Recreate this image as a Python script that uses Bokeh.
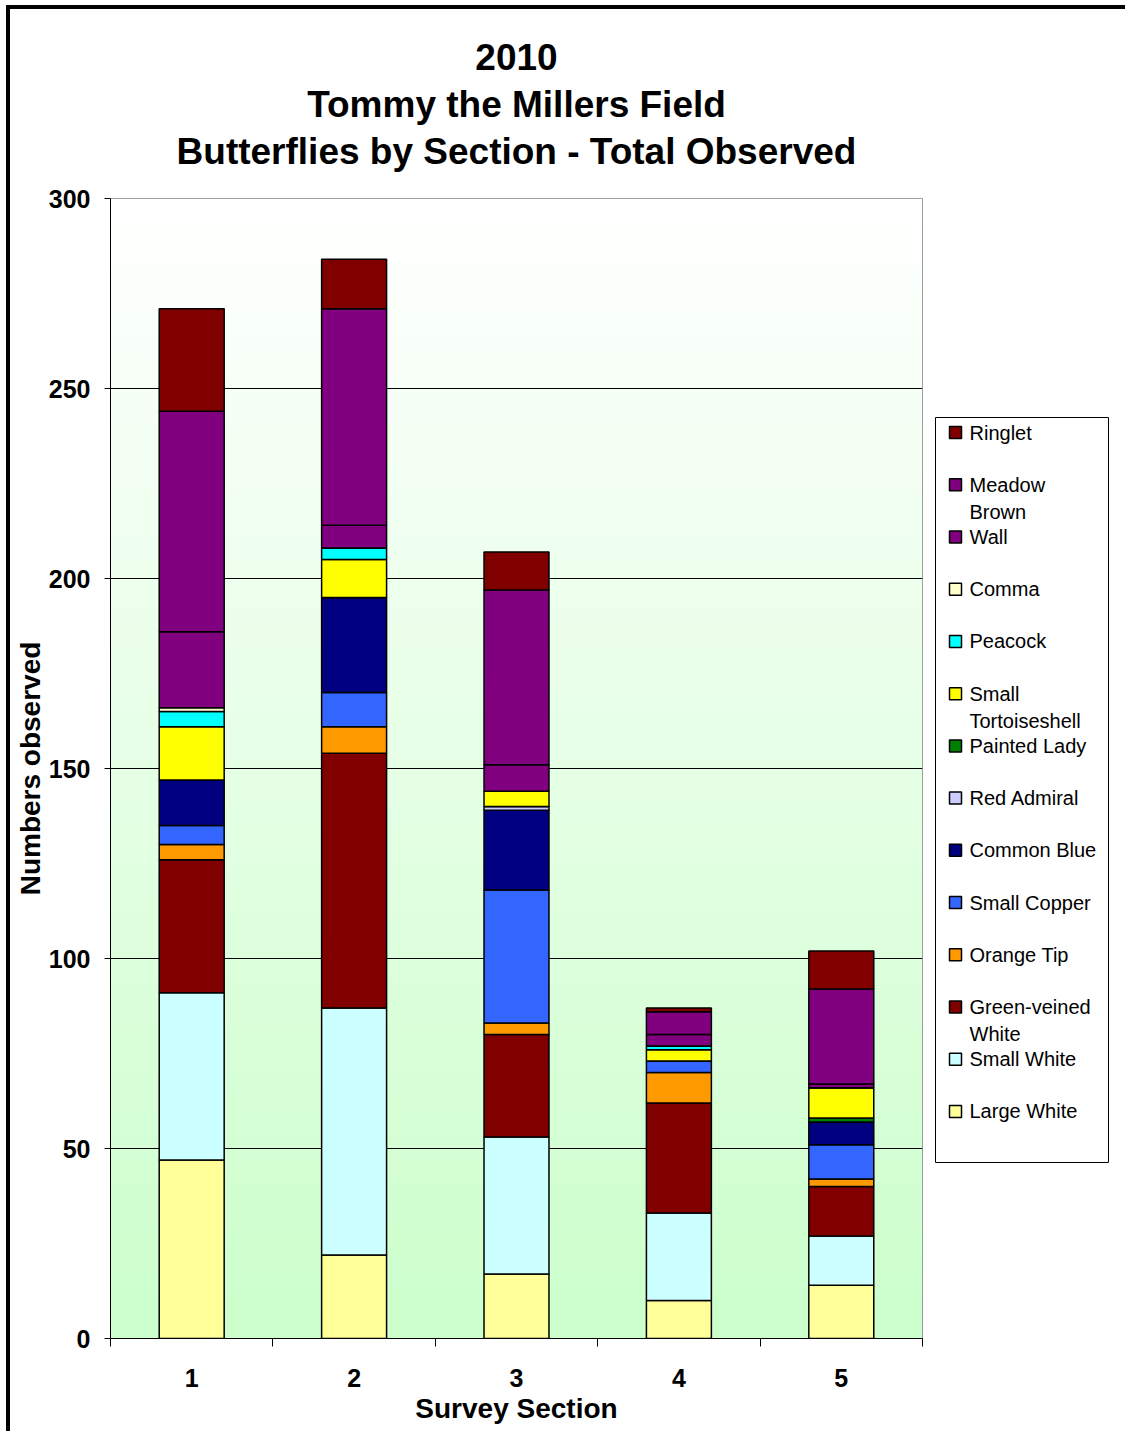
import numpy as np
from bokeh.plotting import figure
from bokeh.models import ColumnDataSource, Range1d, FixedTicker, Row
from bokeh.embed import file_html
from bokeh.resources import INLINE
from bokeh.core.properties import value

# Survey sections along the transect
sections = [1, 2, 3, 4, 5]
section_labels = {1: "1", 2: "2", 3: "3", 4: "4", 5: "5"}

# Butterfly counts per section (stacked from the bottom up)
large_white = [47, 22, 17, 10, 14]
small_white = [44, 65, 36, 23, 13]
green_veined_white = [35, 67, 27, 29, 13]
orange_tip = [4, 7, 3, 8, 2]
small_copper = [5, 9, 35, 3, 9]
common_blue = [12, 25, 21, 0, 6]
red_admiral = [0, 0, 1, 0, 0]
painted_lady = [0, 0, 0, 0, 1]
small_tortoiseshell = [14, 10, 4, 3, 8]
peacock = [4, 3, 0, 1, 0]
comma = [1, 0, 0, 0, 0]
wall = [20, 6, 7, 3, 1]
meadow_brown = [58, 57, 46, 6, 25]
ringlet = [27, 13, 10, 1, 10]

species = ["Large White", "Small White", "Green-veined White", "Orange Tip",
           "Small Copper", "Common Blue", "Red Admiral", "Painted Lady",
           "Small Tortoiseshell", "Peacock", "Comma", "Wall",
           "Meadow Brown", "Ringlet"]
counts = [large_white, small_white, green_veined_white, orange_tip,
          small_copper, common_blue, red_admiral, painted_lady,
          small_tortoiseshell, peacock, comma, wall, meadow_brown, ringlet]
colors = ["#FFFF99", "#CCFFFF", "#800000", "#FF9900", "#3366FF", "#000080",
          "#CCCCFF", "#008000", "#FFFF00", "#00FFFF", "#FFFFCC", "#800080",
          "#800080", "#800000"]
# legend text, wrapped the way the key box shows it
legend_text = {"Meadow Brown": ["Meadow", "Brown"],
               "Small Tortoiseshell": ["Small", "Tortoiseshell"],
               "Green-veined White": ["Green-veined", "White"]}

y_ticks = [0, 50, 100, 150, 200, 250, 300]

title_lines = ["2010", "Tommy the Millers Field",
               "Butterflies by Section - Total Observed"]

FONT = "Liberation Sans"
BORDER_TOP = 189
BORDER_BOTTOM = 93

data = {"section": sections}
for name, vals in zip(species, counts):
    data[name] = vals
source = ColumnDataSource(data)

p = figure(width=920, height=1422,
           x_range=Range1d(0.5, 5.5), y_range=Range1d(0, 300),
           output_backend="svg", toolbar_location=None,
           min_border_left=100, min_border_right=8,
           min_border_top=BORDER_TOP, min_border_bottom=BORDER_BOTTOM,
           background_fill_color="white", border_fill_color="white",
           outline_line_color="#808080", outline_line_width=1)

# three-line heading, each line centred
p.title.text = "\n".join(title_lines)
p.title.align = "center"
p.title.text_align = "center"
p.title.text_font = FONT
p.title.text_font_style = "bold"
p.title.text_font_size = "37px"
p.title.text_color = "black"
p.title.text_line_height = 1.152
p.title.standoff = 52

# plot-area wash: white at the top fading to pale green at the bottom
n = 256
t = np.linspace(0.0, 1.0, n)
rgba = np.zeros((n, 1, 4), dtype=np.uint8)
rgba[:, 0, 0] = (204 + 51 * t).astype(np.uint8)
rgba[:, 0, 1] = 255
rgba[:, 0, 2] = (204 + 51 * t).astype(np.uint8)
rgba[:, 0, 3] = 255
img = rgba.view(dtype=np.uint32).reshape((n, 1))
p.image_rgba(image=[img], x=0.5, y=0, dw=5, dh=300, level="image")

p.vbar_stack(species, x="section", width=0.4, source=source,
             fill_color=colors, line_color="black", line_width=1.5)

# gridlines
p.xgrid.visible = False
p.ygrid.ticker = FixedTicker(ticks=[50, 100, 150, 200, 250])
p.ygrid.grid_line_color = "black"
p.ygrid.grid_line_width = 1

# y axis
p.yaxis.ticker = FixedTicker(ticks=y_ticks)
p.yaxis.axis_line_color = "black"
p.yaxis.major_tick_line_color = "black"
p.yaxis.major_tick_out = 6
p.yaxis.major_tick_in = 0
p.yaxis.minor_tick_line_color = None
p.yaxis.major_label_standoff = 14
p.yaxis.major_label_text_font = FONT
p.yaxis.major_label_text_font_style = "bold"
p.yaxis.major_label_text_font_size = "25px"
p.yaxis.major_label_text_color = "black"
p.yaxis.axis_label = "Numbers observed"
p.yaxis.axis_label_text_font = FONT
p.yaxis.axis_label_text_font_style = "bold"
p.yaxis.axis_label_text_font_size = "28px"
p.yaxis.axis_label_text_color = "black"
p.yaxis.axis_label_standoff = 0

# x axis: labels on the sections, tick marks between them
p.xaxis.ticker = FixedTicker(ticks=sections,
                             minor_ticks=[s - 0.5 for s in sections] + [sections[-1] + 0.5])
p.xaxis.major_label_overrides = section_labels
p.xaxis.axis_line_color = "black"
p.xaxis.major_tick_out = 0
p.xaxis.major_tick_in = 0
p.xaxis.minor_tick_out = 8
p.xaxis.minor_tick_in = 0
p.xaxis.minor_tick_line_color = "black"
p.xaxis.major_label_standoff = 22
p.xaxis.major_label_text_font = FONT
p.xaxis.major_label_text_font_style = "bold"
p.xaxis.major_label_text_font_size = "25px"
p.xaxis.major_label_text_color = "black"
p.xaxis.axis_label = "Survey Section"
p.xaxis.axis_label_text_font = FONT
p.xaxis.axis_label_text_font_style = "bold"
p.xaxis.axis_label_text_font_size = "28px"
p.xaxis.axis_label_text_color = "black"
p.xaxis.axis_label_standoff = 3

# key box, drawn in its own panel in pixel-like coordinates
lg = figure(width=195, height=1422,
            x_range=Range1d(930, 1125), y_range=Range1d(1338, 198),
            output_backend="svg", toolbar_location=None,
            min_border_left=0, min_border_right=0,
            min_border_top=BORDER_TOP, min_border_bottom=BORDER_BOTTOM,
            x_axis_location=None, y_axis_location=None,
            outline_line_color=None, background_fill_color="white",
            border_fill_color="white")
lg.grid.grid_line_color = None

lg.quad(left=935, right=1108, top=417, bottom=1162,
        fill_color="white", line_color="black", line_width=1)

row_top = 432
row_step = 52.23
line_gap = 27
key_names = species[::-1]
key_colors = colors[::-1]
mx, my, tx, ty, tt = [], [], [], [], []
for i, name in enumerate(key_names):
    yy = row_top + i * row_step
    mx.append(955)
    my.append(yy)
    for j, part in enumerate(legend_text.get(name, [name])):
        tx.append(969)
        ty.append(yy + j * line_gap)
        tt.append(part)

lg.rect(x=mx, y=my, width=12, height=12, fill_color=key_colors,
        line_color="black", line_width=1.5)
lg.text(x=tx, y=ty, text=tt, text_font=value(FONT), text_font_size="20px",
        text_baseline="middle", text_align="left", text_color="black")

layout = Row(children=[p, lg], spacing=0,
             styles={"border-left": "4px solid black",
                     "border-top": "4px solid black",
                     "margin-left": "6px", "margin-top": "5px"})

open("out.html", "w").write(file_html(layout, INLINE))
